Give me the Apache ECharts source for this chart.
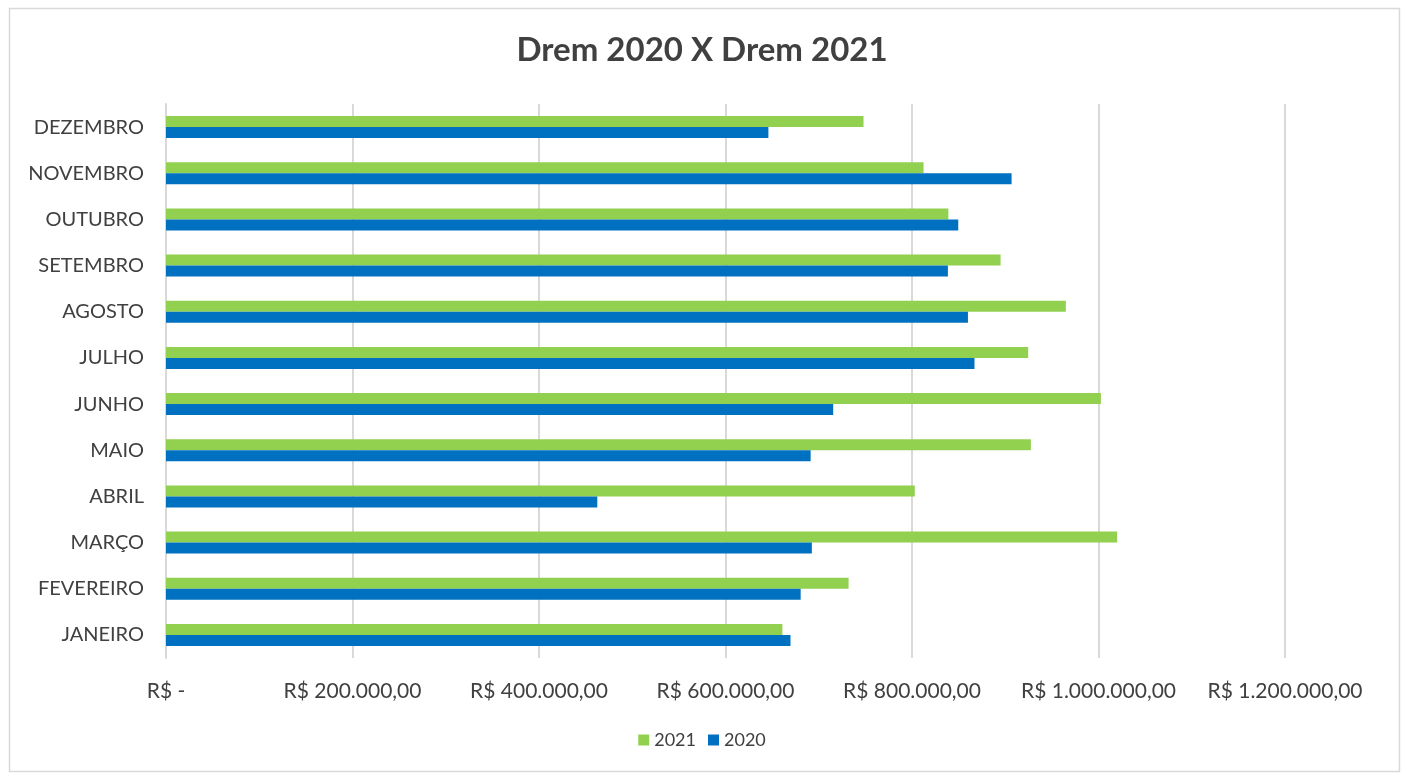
<!DOCTYPE html>
<html>
<head>
<meta charset="utf-8">
<script src="https://cdn.jsdelivr.net/npm/echarts@6/dist/echarts.min.js"></script>
<style>
html,body{margin:0;padding:0;background:#ffffff;}
#chart{width:1404px;height:774px;}
</style>
</head>
<body>
<div id="chart"></div>
<script>
const categories = ['JANEIRO','FEVEREIRO','MARÇO','ABRIL','MAIO','JUNHO','JULHO','AGOSTO','SETEMBRO','OUTUBRO','NOVEMBRO','DEZEMBRO'];
const values2021 = [661000, 732000, 1020000, 803000, 927500, 1002600, 924600, 965000, 895000, 839000, 812400, 748000];
const values2020 = [669700, 680600, 692600, 462500, 691300, 715500, 867000, 860000, 838500, 849600, 906800, 646000];
const seriesNames = ['2021', '2020'];

function brl(v){
  if (v === 0) return 'R$ -';
  const s = Math.round(v).toString().replace(/\B(?=(\d{3})+(?!\d))/g, '.');
  return 'R$ ' + s + ',00';
}

const chart = echarts.init(document.getElementById('chart'));
const font = 'Lato, "Open Sans", sans-serif';
chart.setOption({
  animation: false,
  backgroundColor: '#ffffff',
  graphic: [{
    type: 'rect', left: 7, top: 6, shape: {width: 1390, height: 763},
    style: {fill: 'none', stroke: '#d9d9d9', lineWidth: 1.5}
  }],
  title: {
    text: 'Drem 2020 X Drem 2021',
    left: 'center', top: 29,
    textStyle: {fontFamily: font, fontWeight: 'bold', fontSize: 33, color: '#404040'}
  },
  legend: {
    bottom: 20, left: 'center',
    itemWidth: 11, itemHeight: 11, itemGap: 12,
    icon: 'rect',
    textStyle: {fontFamily: font, fontSize: 18, color: '#404040'},
    data: seriesNames
  },
  grid: {left: 166, right: 119, top: 104, bottom: 116, containLabel: false},
  xAxis: {
    type: 'value', min: 0, max: 1200000, interval: 200000,
    axisLine: {show: false}, axisTick: {show: false},
    splitLine: {show: true, lineStyle: {color: '#d9d9d9', width: 2}},
    axisLabel: {formatter: brl, margin: 23, fontFamily: font, fontSize: 21, color: '#404040'}
  },
  yAxis: {
    type: 'category', data: categories,
    axisLine: {show: true, lineStyle: {color: '#d9d9d9', width: 2}},
    axisTick: {show: false},
    axisLabel: {fontFamily: font, fontSize: 20, color: '#404040', margin: 22}
  },
  series: [
    {name: seriesNames[0], type: 'bar', data: values2021, barWidth: 11, barGap: '0%',
     itemStyle: {color: '#92d050'}},
    {name: seriesNames[1], type: 'bar', data: values2020, barWidth: 11, barGap: '0%',
     itemStyle: {color: '#0070c0'}}
  ]
});
</script>
</body>
</html>
